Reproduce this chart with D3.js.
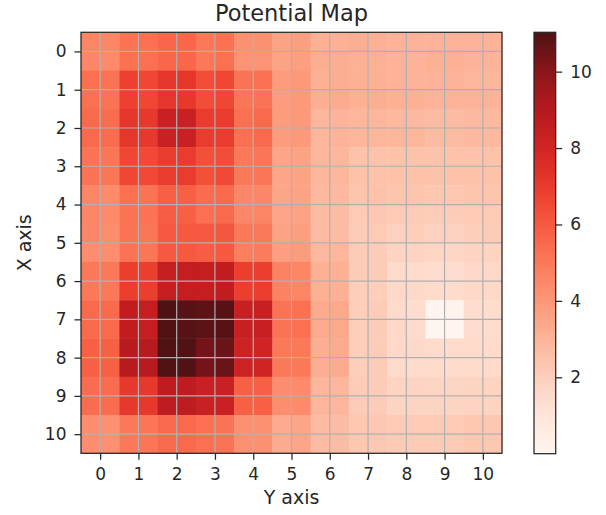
<!DOCTYPE html>
<html>
<head>
<meta charset="utf-8">
<script src="https://cdn.jsdelivr.net/npm/d3@7.9.0/dist/d3.min.js"></script>
<style>
  body { margin: 0; background: #fff; }
  svg text { font-family: "DejaVu Sans", sans-serif; fill: #262626; }
</style>
</head>
<body>
<svg id="chart" width="606" height="515"></svg>
<script>
// potential values, 22 x 22 half-unit cells, row 0 at the top
const potential = [
  [4.6, 4.5, 5.2, 5.3, 5.6, 5.6, 5.0, 5.3, 4.2, 4.2, 3.6, 3.7, 3.1, 3.1, 3.2, 3.1, 3.0, 3.0, 3.0, 3.0, 3.0, 3.0],
  [4.5, 4.4, 5.3, 5.3, 5.6, 5.6, 5.0, 5.3, 4.1, 4.1, 3.6, 3.7, 3.2, 3.2, 3.1, 3.1, 3.0, 3.0, 3.1, 3.1, 3.0, 3.0],
  [5.3, 5.2, 6.8, 6.6, 7.2, 7.2, 6.4, 6.6, 5.2, 5.3, 3.8, 3.9, 3.1, 3.2, 3.1, 3.1, 3.0, 3.0, 3.0, 3.0, 2.9, 2.9],
  [5.3, 5.2, 6.8, 6.6, 7.2, 7.1, 6.4, 6.6, 5.1, 5.2, 3.8, 3.9, 3.2, 3.3, 3.1, 3.2, 3.1, 3.1, 3.0, 3.0, 3.0, 3.0],
  [5.5, 5.4, 7.2, 7.1, 8.3, 8.3, 7.0, 7.0, 5.3, 5.5, 3.8, 3.9, 2.9, 3.0, 2.9, 2.9, 2.8, 2.8, 2.7, 2.7, 2.8, 2.8],
  [5.5, 5.4, 7.2, 7.1, 8.3, 8.3, 7.0, 7.0, 5.3, 5.5, 3.8, 3.9, 2.9, 3.0, 2.9, 2.9, 2.9, 2.9, 2.7, 2.7, 2.8, 2.8],
  [5.2, 5.1, 6.6, 6.5, 7.0, 7.0, 6.3, 6.4, 5.0, 5.1, 3.5, 3.6, 2.9, 2.9, 2.5, 2.5, 2.5, 2.5, 2.5, 2.5, 2.5, 2.5],
  [5.2, 5.1, 6.6, 6.5, 7.0, 7.0, 6.3, 6.5, 5.0, 5.1, 3.5, 3.6, 2.9, 2.9, 2.5, 2.5, 2.5, 2.5, 2.5, 2.5, 2.5, 2.5],
  [4.6, 4.4, 5.3, 5.2, 5.8, 5.8, 5.4, 5.5, 4.5, 4.5, 3.5, 3.6, 2.8, 2.8, 2.4, 2.5, 2.4, 2.4, 2.3, 2.3, 2.4, 2.4],
  [4.6, 4.4, 5.2, 5.2, 5.9, 5.8, 5.3, 5.5, 4.5, 4.6, 3.5, 3.6, 2.7, 2.7, 2.2, 2.3, 2.2, 2.2, 2.1, 2.1, 2.2, 2.2],
  [4.5, 4.3, 5.2, 5.1, 6.0, 6.0, 6.0, 6.1, 5.0, 5.0, 3.6, 3.7, 2.7, 2.7, 2.1, 2.2, 1.9, 2.0, 1.9, 1.9, 2.0, 2.1],
  [4.3, 4.3, 5.2, 5.1, 6.0, 6.0, 5.9, 6.0, 4.8, 4.9, 3.7, 3.8, 2.8, 2.9, 2.1, 2.1, 1.8, 1.8, 1.7, 1.7, 1.8, 1.8],
  [5.0, 5.0, 6.9, 6.9, 8.5, 8.5, 8.5, 8.6, 6.9, 6.9, 4.7, 4.6, 3.1, 3.1, 2.1, 2.1, 1.5, 1.5, 1.4, 1.4, 1.6, 1.6],
  [5.0, 5.0, 6.9, 6.9, 8.5, 8.5, 8.5, 8.6, 6.9, 6.9, 4.7, 4.6, 3.1, 3.1, 2.0, 2.0, 1.6, 1.6, 1.5, 1.5, 1.6, 1.6],
  [5.5, 5.5, 8.6, 8.5, 11.03, 10.9, 10.8, 10.9, 8.4, 8.4, 5.2, 5.3, 3.3, 3.4, 2.0, 2.1, 1.5, 1.4, 0.05, 0.1, 1.4, 1.4],
  [5.5, 5.5, 8.6, 8.5, 11.0, 10.9, 10.8, 10.9, 8.4, 8.4, 5.2, 5.3, 3.3, 3.4, 2.0, 2.1, 1.6, 1.5, 0.0, 0.05, 1.4, 1.4],
  [5.8, 5.8, 8.9, 8.9, 11.0, 11.0, 10.4, 10.6, 8.2, 8.1, 5.0, 5.0, 3.2, 3.3, 2.0, 2.1, 1.6, 1.6, 1.5, 1.5, 1.5, 1.5],
  [5.8, 5.8, 8.9, 8.9, 11.0, 11.0, 10.4, 10.6, 8.2, 8.1, 5.0, 5.0, 3.2, 3.3, 2.0, 2.1, 1.5, 1.5, 1.5, 1.5, 1.5, 1.5],
  [5.4, 5.4, 7.1, 7.1, 8.7, 8.7, 8.3, 8.3, 5.8, 5.8, 4.3, 4.4, 2.9, 2.9, 2.1, 2.1, 1.8, 1.8, 1.75, 1.75, 1.8, 1.8],
  [5.4, 5.4, 7.1, 7.1, 8.7, 8.7, 8.3, 8.3, 5.8, 5.8, 4.3, 4.4, 2.9, 2.9, 2.1, 2.1, 1.8, 1.8, 1.8, 1.8, 1.8, 1.8],
  [4.3, 4.2, 5.0, 5.1, 5.5, 5.5, 5.3, 5.2, 4.2, 4.2, 3.3, 3.5, 2.7, 2.7, 2.3, 2.3, 2.2, 2.2, 2.2, 2.2, 2.3, 2.3],
  [4.3, 4.2, 5.0, 5.1, 5.5, 5.5, 5.3, 5.2, 4.2, 4.2, 3.3, 3.5, 2.7, 2.7, 2.3, 2.3, 2.2, 2.2, 2.2, 2.2, 2.3, 2.3]
];
const axisTicks = [0, 1, 2, 3, 4, 5, 6, 7, 8, 9, 10];
const colorbarTicks = [2, 4, 6, 8, 10];
const cellStep = 0.5;
const extent = [-0.5, 10.5];

const svg = d3.select("#chart");
const ink = "#262626";

const x = d3.scaleLinear().domain(extent).range([81, 502]);
const y = d3.scaleLinear().domain(extent).range([32.3, 453.3]);

const vmin = d3.min(potential.flat());
const vmax = d3.max(potential.flat());
// Reds, with the dark end a touch browner like the picture
const reds = d3.interpolateRgbBasis(["#fff5f0", "#fee0d2", "#fcbba1", "#fc9272", "#fb6a4a",
    "#ef3b2c", "#cb1d22", "#a2171c", "#4f1214"]);
const color = d3.scaleSequential(reds).domain([vmin, vmax]);

// cells
const cells = potential.flatMap((row, i) => row.map((v, j) => ({ i, j, v })));
svg.append("g")
    .selectAll("rect")
    .data(cells)
    .join("rect")
    .attr("x", d => x(extent[0] + d.j * cellStep))
    .attr("y", d => y(extent[0] + d.i * cellStep))
    .attr("width", x(cellStep) - x(0) + 0.4)
    .attr("height", y(cellStep) - y(0) + 0.4)
    .attr("fill", d => color(d.v));

// grid on top of the image
const grid = svg.append("g").attr("stroke", "#b0b0b0").attr("stroke-width", 1.2);
grid.selectAll(".gx").data(axisTicks).join("line")
    .attr("x1", d => x(d)).attr("x2", d => x(d))
    .attr("y1", y.range()[0]).attr("y2", y.range()[1]);
grid.selectAll(".gy").data(axisTicks).join("line")
    .attr("y1", d => y(d)).attr("y2", d => y(d))
    .attr("x1", x.range()[0]).attr("x2", x.range()[1]);

// axes
const xAxis = svg.append("g")
    .attr("transform", `translate(0,${y.range()[1]})`)
    .call(d3.axisBottom(x).tickValues(axisTicks).tickSize(6.5).tickPadding(8.5).tickSizeOuter(0));
const yAxis = svg.append("g")
    .attr("transform", `translate(${x.range()[0]},0)`)
    .call(d3.axisLeft(y).tickValues(axisTicks).tickSize(6.5).tickPadding(8).tickSizeOuter(0));
[xAxis, yAxis].forEach(g => {
    g.select(".domain").remove();
    g.selectAll("line").attr("stroke", ink).attr("stroke-width", 1.25);
    g.selectAll("text").attr("font-size", 17).attr("fill", ink)
        .attr("font-family", "DejaVu Sans");
});

// spines
svg.append("rect")
    .attr("x", x.range()[0]).attr("y", y.range()[0])
    .attr("width", x.range()[1] - x.range()[0])
    .attr("height", y.range()[1] - y.range()[0])
    .attr("fill", "none").attr("stroke", ink).attr("stroke-width", 1.25);

// title and axis labels
svg.append("text")
    .attr("x", (x.range()[0] + x.range()[1]) / 2).attr("y", 21)
    .attr("text-anchor", "middle").attr("font-size", 22.5)
    .text("Potential Map");
svg.append("text")
    .attr("x", (x.range()[0] + x.range()[1]) / 2).attr("y", 504)
    .attr("text-anchor", "middle").attr("font-size", 19)
    .text("Y axis");
svg.append("text")
    .attr("transform", `translate(31,${(y.range()[0] + y.range()[1]) / 2}) rotate(-90)`)
    .attr("text-anchor", "middle").attr("font-size", 19)
    .text("X axis");

// colorbar
const cb = { x: 534, w: 21.7, top: 32.3, bottom: 453.7 };
const cScale = d3.scaleLinear().domain([vmin, vmax]).range([cb.bottom, cb.top]);
const grad = svg.append("defs").append("linearGradient")
    .attr("id", "cbar").attr("x1", 0).attr("y1", 1).attr("x2", 0).attr("y2", 0);
grad.selectAll("stop")
    .data(d3.range(0, 1.0001, 0.02))
    .join("stop")
    .attr("offset", d => d)
    .attr("stop-color", d => color(vmin + d * (vmax - vmin)));
svg.append("rect")
    .attr("x", cb.x).attr("y", cb.top)
    .attr("width", cb.w).attr("height", cb.bottom - cb.top)
    .attr("fill", "url(#cbar)")
    .attr("stroke", ink).attr("stroke-width", 1.25);
const cAxis = svg.append("g")
    .attr("transform", `translate(${cb.x + cb.w},0)`)
    .call(d3.axisRight(cScale).tickValues(colorbarTicks).tickSize(6.5).tickPadding(8).tickSizeOuter(0));
cAxis.select(".domain").remove();
cAxis.selectAll("line").attr("stroke", ink).attr("stroke-width", 1.25);
cAxis.selectAll("text").attr("font-size", 17).attr("fill", ink).attr("font-family", "DejaVu Sans");
</script>
</body>
</html>
